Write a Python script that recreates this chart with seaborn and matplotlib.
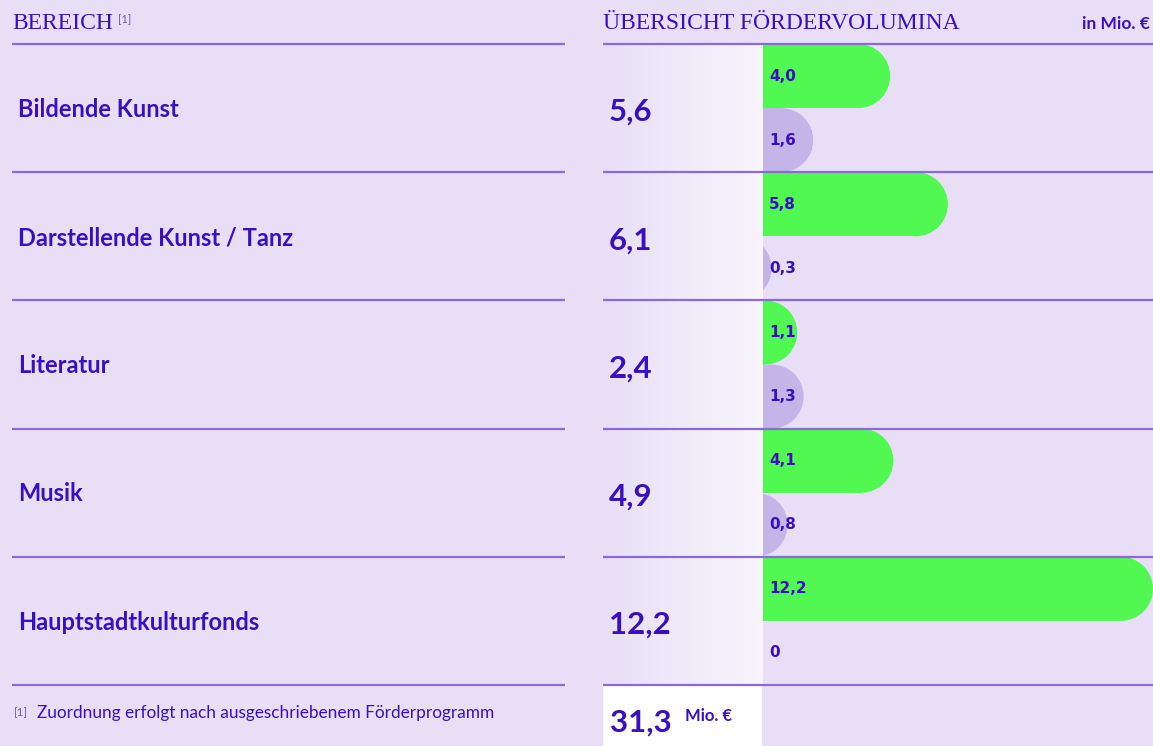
import numpy as np
import pandas as pd
import matplotlib
matplotlib.use("Agg")
import matplotlib.pyplot as plt
import seaborn as sns
from matplotlib.patches import Rectangle, Ellipse
from matplotlib.colors import LinearSegmentedColormap
from matplotlib.transforms import blended_transform_factory

# Daten
bereiche = ["Bildende Kunst", "Darstellende Kunst / Tanz", "Literatur", "Musik", "Hauptstadtkulturfonds"]
reihe_1 = [4.0, 5.8, 1.1, 4.1, 12.2]
reihe_2 = [1.6, 0.3, 1.3, 0.8, 0.0]
summen = [5.6, 6.1, 2.4, 4.9, 12.2]
gesamt = 31.3

BG = "#E8DFF7"
TXT = "#3B0EC2"
LINE = "#8B6AD8"
GREEN = "#52F852"
LILA = "#C5B4E8"
GREY = "#6A5AAE"

W, H = 1153, 746
TOP, BOTTOM = 44, 685


def fx(px):
    return px / W


def fy(py):
    return 1 - py / H


def de(v):
    if v == 0:
        return "0"
    return f"{v:.1f}".replace(".", ",")


sns.set_theme(style="white")
plt.rcParams["font.family"] = ["Lato", "DejaVu Sans"]

fig = plt.figure(figsize=(W / 100, H / 100), dpi=100, facecolor=BG)

df = pd.DataFrame({
    "bereich": bereiche * 2,
    "wert": reihe_1 + reihe_2,
    "reihe": ["1"] * len(bereiche) + ["2"] * len(bereiche),
})

# Balken
ax_bar = fig.add_axes([fx(762), fy(BOTTOM), fx(1153) - fx(762), (BOTTOM - TOP) / H])
sns.barplot(data=df, x="wert", y="bereich", hue="reihe", orient="h",
            order=bereiche, hue_order=["1", "2"], palette=[GREEN, LILA],
            width=1.0, saturation=1, errorbar=None, legend=False, ax=ax_bar)
ax_bar.set_xlim(0, 12.2)
ax_bar.set_ylim(len(bereiche) - 0.5, -0.5)
ax_bar.axis("off")

# runde Balkenenden
px_x = ax_bar.bbox.width / 12.2
px_y = ax_bar.bbox.height / len(bereiche)
lab_tr = blended_transform_factory(ax_bar.transAxes, ax_bar.transData)
for p in list(ax_bar.patches):
    x0, y0, w, h = p.get_x(), p.get_y(), p.get_width(), p.get_height()
    col = p.get_facecolor()
    p.remove()
    r = (h * px_y / 2) / px_x
    ax_bar.add_patch(Rectangle((-2 * r, y0), w + r, h, facecolor=col, edgecolor="none", lw=0))
    ax_bar.add_patch(Ellipse((w - r, y0 + h / 2), 2 * r, h, facecolor=col, edgecolor="none", lw=0))
    ax_bar.text(7 / 391, y0 + h / 2, de(w), transform=lab_tr, ha="left", va="center",
                fontsize=11, fontweight="bold", color=TXT, family="DejaVu Sans")

# Summenspalte mit Verlauf
ax_grad = fig.add_axes([fx(603), fy(BOTTOM), fx(762) - fx(603), (BOTTOM - TOP) / H])
cmap = LinearSegmentedColormap.from_list("verlauf", [BG, "#F8F5FD"])
ax_grad.imshow(np.linspace(0, 1, 256).reshape(1, -1), cmap=cmap, aspect="auto",
               extent=(0, 1, len(bereiche) - 0.5, -0.5))
ax_grad.set_xlim(0, 1)
ax_grad.set_ylim(len(bereiche) - 0.5, -0.5)
ax_grad.axis("off")
for i, s in enumerate(summen):
    ax_grad.text(6 / 159, i + 0.03, de(s), ha="left", va="center", fontsize=22.5,
                 fontweight="bold", color=TXT)

fig.add_artist(Rectangle((fx(603), 0), fx(762) - fx(603), fy(BOTTOM), transform=fig.transFigure,
                         facecolor="white", edgecolor="none"))

# Linien und Bereichsnamen
ax_lines = fig.add_axes([0, fy(BOTTOM), 1, (BOTTOM - TOP) / H])
ax_lines.set_xlim(0, W)
ax_lines.set_ylim(len(bereiche) - 0.5, -0.5)
ax_lines.axis("off")
ax_lines.set_zorder(5)
grenzen = np.arange(len(bereiche) + 1) - 0.5
ax_lines.hlines(grenzen, 12, 565, color=LINE, lw=1.6, clip_on=False)
ax_lines.hlines(grenzen, 603, 1153, color=LINE, lw=1.6, clip_on=False)
for i, b in enumerate(bereiche):
    ax_lines.text(18, i + 0.01, b, ha="left", va="center", fontsize=17, fontweight="bold", color=TXT)

# Kopfzeile
fig.text(fx(12), fy(29), "BEREICH", ha="left", va="baseline", fontsize=17,
         color=TXT, family="Liberation Serif")
fig.text(fx(118), fy(23), "[1]", ha="left", va="baseline", fontsize=8, color=GREY)
fig.text(fx(603), fy(29), "ÜBERSICHT FÖRDERVOLUMINA", ha="left", va="baseline",
         fontsize=17, color=TXT, family="Liberation Serif")
fig.text(fx(1150), fy(29), "in Mio. €", ha="right", va="baseline", fontsize=12.5,
         fontweight="bold", color=TXT)

# Fußzeile
fig.text(fx(14), fy(713), "[1]", ha="left", va="center", fontsize=8.5, color=GREY)
fig.text(fx(37), fy(713), "Zuordnung erfolgt nach ausgeschriebenem Förderprogramm",
         ha="left", va="center", fontsize=12.4, color=TXT)
fig.text(fx(610), fy(732), de(gesamt), ha="left", va="baseline", fontsize=22.5,
         fontweight="bold", color=TXT)
fig.text(fx(685), fy(721), "Mio. €", ha="left", va="baseline", fontsize=12,
         fontweight="bold", color=TXT)

fig.savefig("out.png", dpi=100, facecolor=BG)
